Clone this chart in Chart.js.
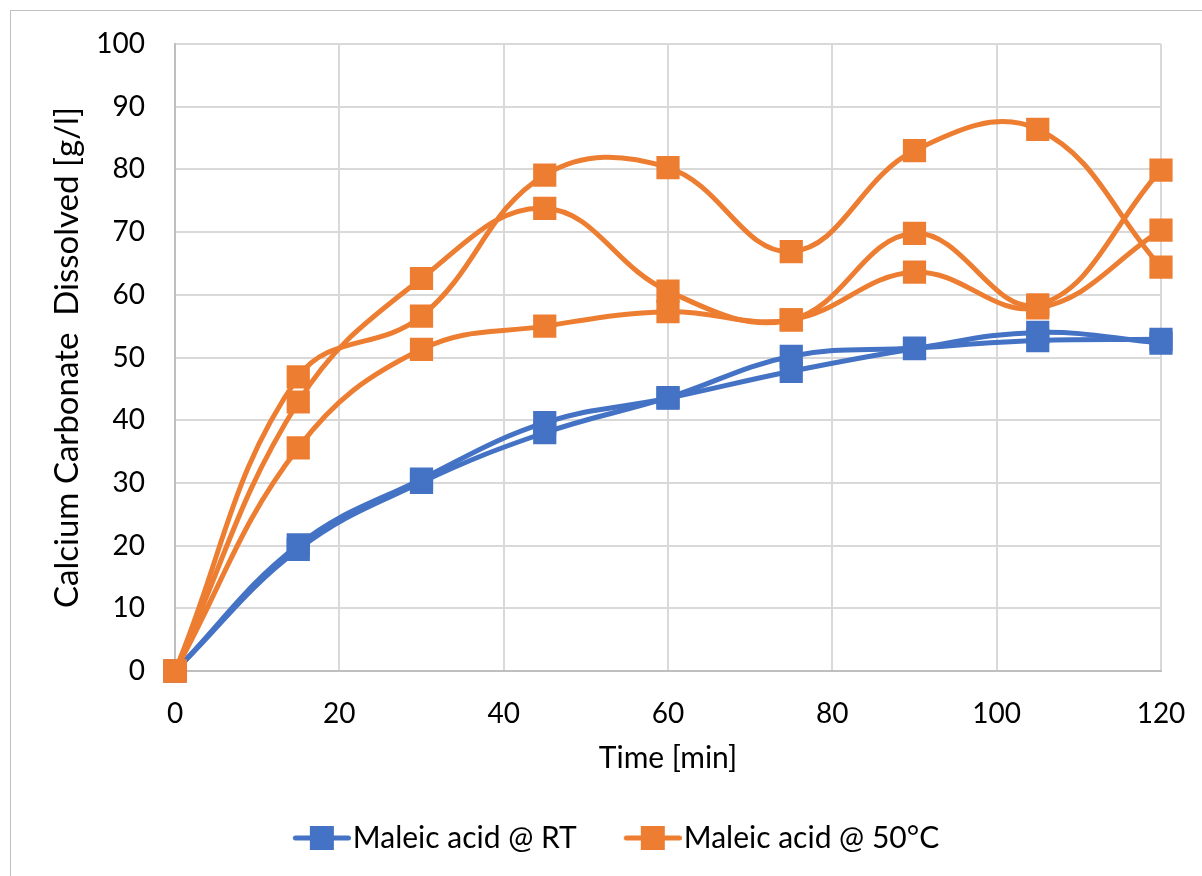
<!DOCTYPE html>
<html>
<head>
<meta charset="utf-8">
<script src="https://cdn.jsdelivr.net/npm/chart.js@4"></script>
<style>
  html, body { margin: 0; padding: 0; background: #fff; overflow: hidden; }
  #wrap { position: absolute; left: 10px; top: 10px; width: 1210px; height: 880px; border: 1px solid #bfbfbf; }
  #chart { display: block; }
</style>
</head>
<body>
<div id="wrap"><canvas id="chart" width="1210" height="880"></canvas></div>
<script>
// sampling times, min
const times = [0, 15, 30, 45, 60, 75, 90, 105, 120];

// CaCO3 dissolved, g/l — room temperature runs
const rtRun1 = [0, 20.1, 30.6, 39.6, 43.5, 47.8, 51.4, 54.0, 52.3];
const rtRun2 = [0, 19.4, 30.1, 38.0, 43.6, 50.2, 51.5, 52.7, 52.9];

// CaCO3 dissolved, g/l — 50°C runs
const hotRun1 = [0, 46.9, 56.6, 79.1, 80.3, 66.9, 83.0, 86.4, 64.4];
const hotRun2 = [0, 42.9, 62.6, 73.8, 60.6, 56.0, 69.8, 58.4, 79.9];
const hotRun3 = [0, 35.6, 51.3, 55.0, 57.3, 56.0, 63.6, 57.9, 70.3];

const yTicks = [0, 10, 20, 30, 40, 50, 60, 70, 80, 90, 100];
const xTicks = [0, 20, 40, 60, 80, 100, 120];

const BLUE = "#4472c4";
const ORANGE = "#ed7d31";
const FONT = "Lato";

const toPoints = vals => vals.map((v, i) => ({ x: times[i], y: v }));

function series(label, vals, color, order) {
    return {
        label: label,
        data: toPoints(vals),
        borderColor: color,
        backgroundColor: color,
        borderWidth: 5,
        borderCapStyle: "round",
        borderJoinStyle: "round",
        tension: 0.4,
        pointStyle: "rect",
        pointRadius: 15,
        pointHoverRadius: 15,
        pointBorderWidth: 2,
        pointBorderColor: color,
        pointBackgroundColor: color,
        clip: false,
        order: order
    };
}

// legend symbol: short line with a square in the middle (left part is blank spacing)
function legendSymbol(color) {
    const c = document.createElement("canvas");
    c.width = 98;
    c.height = 28;
    const g = c.getContext("2d");
    g.strokeStyle = color;
    g.lineWidth = 5;
    g.lineCap = "round";
    g.beginPath();
    g.moveTo(42.5, 14);
    g.lineTo(95.5, 14);
    g.stroke();
    g.fillStyle = color;
    g.fillRect(69 - 12, 14 - 12, 24, 24);
    return c;
}

const canvas = document.getElementById("chart");

new Chart(canvas, {
    type: "line",
    data: {
        datasets: [
            series("Maleic acid @ RT", rtRun1, BLUE, 1),
            series("Maleic acid @ RT", rtRun2, BLUE, 1),
            series("Maleic acid @ 50°C", hotRun1, ORANGE, 0),
            series("Maleic acid @ 50°C", hotRun2, ORANGE, 0),
            series("Maleic acid @ 50°C", hotRun3, ORANGE, 0)
        ]
    },
    options: {
        responsive: false,
        animation: false,
        events: [],
        layout: {
            padding: { left: 33, right: 60, top: 33, bottom: 28 }
        },
        plugins: {
            tooltip: { enabled: false },
            legend: {
                position: "bottom",
                labels: {
                    usePointStyle: true,
                    pointStyleWidth: 72,
                    padding: 20,
                    color: "#000",
                    font: { family: FONT, size: 30 },
                    generateLabels: chart => {
                        const items = Chart.defaults.plugins.legend.labels.generateLabels(chart);
                        return items
                            .filter(it => it.datasetIndex === 0 || it.datasetIndex === 2)
                            .sort((a, b) => a.datasetIndex - b.datasetIndex)
                            .map(it => Object.assign(it, {
                                pointStyle: legendSymbol(it.datasetIndex === 0 ? BLUE : ORANGE)
                            }));
                    }
                }
            }
        },
        scales: {
            x: {
                type: "linear",
                min: 0,
                max: 120,
                afterFit: s => { s.height = 132; },
                afterBuildTicks: s => { s.ticks = xTicks.map(v => ({ value: v })); },
                ticks: {
                    padding: 26,
                    color: "#000",
                    font: { family: FONT, size: 28 }
                },
                grid: { color: "#d9d9d9", lineWidth: 2, drawTicks: false },
                border: { color: "#bfbfbf", width: 2 },
                title: {
                    display: true,
                    text: "Time [min]",
                    color: "#000",
                    font: { family: FONT, size: 30 },
                    padding: { top: 0, bottom: 27 }
                }
            },
            y: {
                min: 0,
                max: 100,
                afterFit: s => {
                    s.width = 131;
                    // tick padding should not push the plot area down
                    s.paddingTop = 0;
                    s.paddingBottom = 0;
                },
                afterBuildTicks: s => { s.ticks = yTicks.map(v => ({ value: v })); },
                ticks: {
                    padding: 30,
                    color: "#000",
                    font: { family: FONT, size: 28 }
                },
                grid: { color: "#d9d9d9", lineWidth: 2, drawTicks: false },
                border: { color: "#bfbfbf", width: 2 },
                title: {
                    display: true,
                    text: "Calcium Carbonate  Dissolved [g/l]",
                    color: "#000",
                    font: { family: FONT, size: 33 },
                    padding: { top: 4, bottom: 0 }
                }
            }
        }
    }
});
</script>
</body>
</html>
